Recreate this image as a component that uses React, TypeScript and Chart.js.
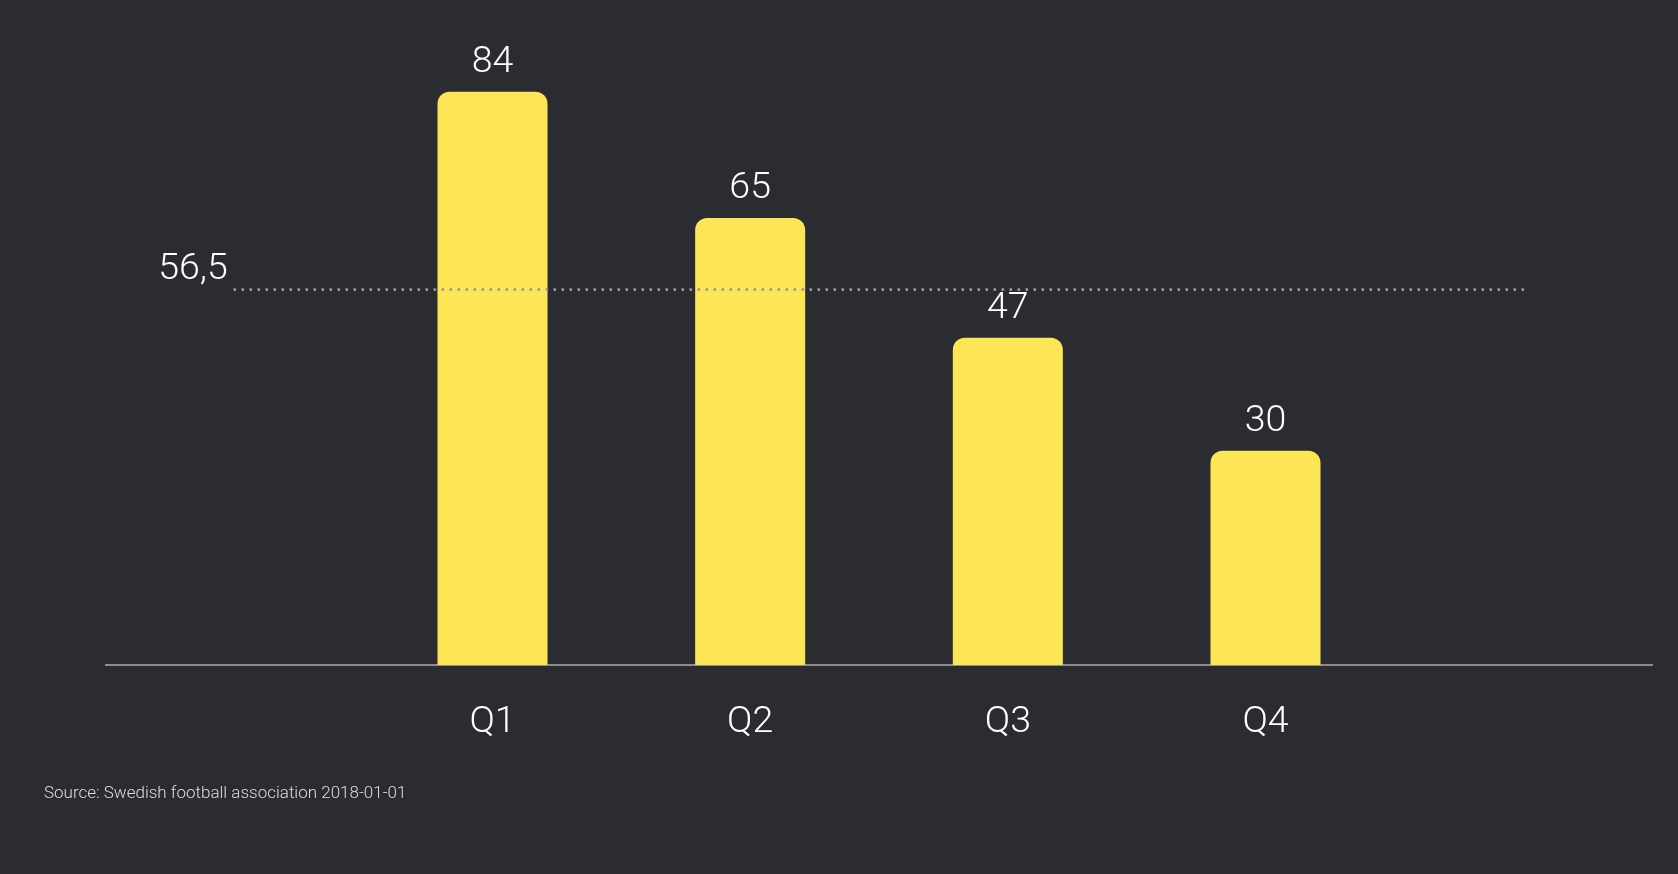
import React, { useEffect, useRef } from "react";
import { Chart, registerables } from "chart.js";

Chart.register(...registerables);

const categories = ["", "Q1", "Q2", "Q3", "Q4", ""];
const values = [null, 84, 65, 47, 30, null];
const average = [56.5, 56.5, 56.5, 56.5, 56.5, 56.5];
const averageLabel = "56,5";
const sourceText = "Source: Swedish football association 2018-01-01";

const Y_MIN = -2.25;
const Y_MAX = 96;

const BG = "#2b2c32";
const BAR = "#fce655";
const FONT = "Roboto, 'Open Sans', sans-serif";

const labelsPlugin = {
  id: "valueLabels",
  afterDatasetsDraw(chart: any) {
    const ctx = chart.ctx;
    ctx.save();
    ctx.fillStyle = "#ffffff";
    ctx.font = `300 37.5px ${FONT}`;
    ctx.textAlign = "center";
    ctx.textBaseline = "alphabetic";
    const barMeta = chart.getDatasetMeta(0);
    barMeta.data.forEach((el: any, i: number) => {
      const v = values[i];
      if (v == null) return;
      ctx.fillText(String(v), el.x, el.y - 20);
    });
    const lineMeta = chart.getDatasetMeta(1);
    const p = lineMeta.data[0];
    if (p) {
      ctx.textAlign = "right";
      ctx.fillText(averageLabel, p.x - 7, p.y - 10);
    }
    ctx.restore();
  },
};

export default function App() {
  const ref = useRef<HTMLCanvasElement>(null);
  useEffect(() => {
    document.body.style.margin = "0";
    document.body.style.background = BG;
    const chart = new Chart(ref.current!, {
      type: "bar",
      data: {
        labels: categories,
        datasets: [
          {
            type: "bar",
            data: values as any,
            backgroundColor: BAR,
            borderRadius: 12,
            borderSkipped: "bottom",
            base: Y_MIN,
            barPercentage: 0.427,
            categoryPercentage: 1,
            yAxisID: "y",
            order: 2,
          } as any,
          {
            type: "line",
            data: average,
            borderColor: "#9a9aa2",
            borderWidth: 3,
            borderDash: [0, 8],
            borderCapStyle: "round",
            pointRadius: 0,
            fill: false,
            yAxisID: "y2",
            order: 1,
          } as any,
        ],
      },
      plugins: [labelsPlugin],
      options: {
        responsive: false,
        animation: false,
        layout: { padding: { left: 106, right: 26, top: 12, bottom: 0 } },
        plugins: {
          legend: { display: false },
          tooltip: { enabled: false },
        },
        scales: {
          x: {
            grid: { display: false, drawTicks: false },
            border: { display: true, color: "#8c8c8c", width: 2 },
            ticks: {
              color: "#ffffff",
              font: { family: FONT, size: 37.5, weight: "300" as any },
              padding: 35,
              maxRotation: 0,
            },
            afterFit: (s: any) => {
              s.height = 209;
            },
          },
          y: {
            display: false,
            min: Y_MIN,
            max: Y_MAX,
          },
          y2: {
            display: false,
            min: 0,
            max: Y_MAX - Y_MIN,
          },
        },
      },
    });
    return () => chart.destroy();
  }, []);

  return (
    <div
      style={{
        position: "fixed",
        left: 0,
        top: 0,
        width: 1678,
        height: 874,
        background: BG,
      }}
    >
      <canvas ref={ref} width={1678} height={874} style={{ display: "block" }} />
      <div
        style={{
          position: "absolute",
          left: 44,
          top: 782,
          color: "#dcdcdc",
          fontFamily: FONT,
          fontSize: 17,
          fontWeight: 300,
          whiteSpace: "nowrap",
          lineHeight: "20px",
        }}
      >
        {sourceText}
      </div>
    </div>
  );
}
